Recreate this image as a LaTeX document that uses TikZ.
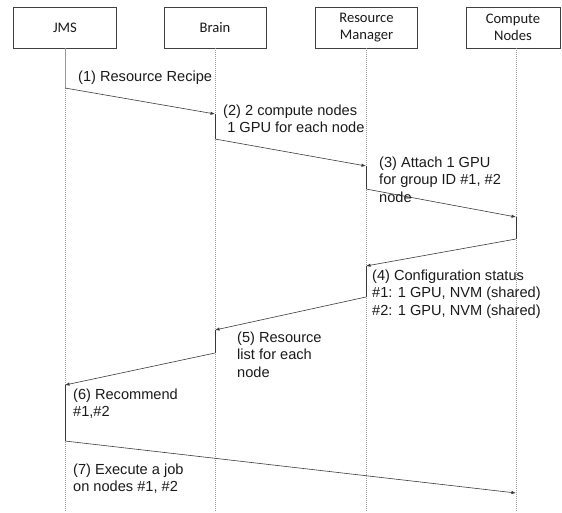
\documentclass[tikz,border=0pt]{standalone}
\usepackage{fontspec}
\setmainfont{Liberation Sans}
\newfontfamily\boxfont{Carlito}
\usetikzlibrary{arrows.meta}
\definecolor{inkc}{HTML}{1A1A1A}
\definecolor{msgc}{HTML}{3A3A3A}
\definecolor{lifec}{HTML}{9A9A9A}
\tikzset{
  actor/.style={draw=black!75, line width=0.8pt, fill=white, minimum height=41pt,
    inner sep=0pt, align=center, text=inkc,
    font=\boxfont\fontsize{14.6}{16.5}\selectfont},
  lifeline/.style={draw=lifec, line width=0.5pt, dash pattern=on 1pt off 1pt},
  activebar/.style={draw=msgc, line width=0.6pt},
  msg/.style={draw=msgc, line width=0.6pt, -{Latex[length=4.5pt,width=3.4pt]}},
  msglabel/.style={anchor=north west, inner sep=0pt, align=left, text=inkc,
    font=\fontsize{14.6}{17.5}\selectfont}
}
\begin{document}
\begin{tikzpicture}[x=1pt,y=-1pt]
\useasboundingbox (0,0) rectangle (562,512);

% participants
\node[actor, minimum width=103pt] (jms)   at (65,27.5)    {JMS};
\node[actor, minimum width=102pt] (brain) at (215,27.5)   {Brain};
\node[actor, minimum width=102pt] (rm)    at (366.5,27.5) {Resource\\Manager};
\node[actor, minimum width=94pt]  (cn)    at (513,27.5)   {Compute\\Nodes};

% lifeline ends
\coordinate (jmsE)   at (65,512);
\coordinate (brainE) at (215,512);
\coordinate (rmE)    at (366,512);
\coordinate (cnE)    at (516,512);

\draw[lifeline] (jms.south)   -- (jmsE);
\draw[lifeline] (brain.south) -- (brainE);
\draw[lifeline] (rm.south -| rmE) -- (rmE);
\draw[lifeline] (cn.south -| cnE) -- (cnE);

% message end points on the lifelines
\coordinate (j1) at (65,88);
\coordinate (b1) at (215,114);
\coordinate (b2) at (215,139);
\coordinate (r1) at (366,166);
\coordinate (r2) at (366,189);
\coordinate (c1) at (516,217);
\coordinate (c2) at (516,239);
\coordinate (r3) at (366,266);
\coordinate (r4) at (366,297);
\coordinate (b3) at (215,330);
\coordinate (b4) at (215,353);
\coordinate (j2) at (65,385);
\coordinate (j3) at (65,441);
\coordinate (c3) at (516,493);

% activity segments
\draw[activebar, draw=lifec] (jms.south) -- (j1);
\draw[activebar] (b1) -- (b2);
\draw[activebar] (r1) -- (r2);
\draw[activebar] (c1) -- (c2);
\draw[activebar] (r3) -- (r4);
\draw[activebar] (b3) -- (b4);
\draw[activebar] (j2) -- (j3);

% messages
\draw[msg] (j1) -- (b1);
\draw[msg] (b2) -- (r1);
\draw[msg] (r2) -- (c1);
\draw[msg] (c2) -- (r3);
\draw[msg] (r4) -- (b3);
\draw[msg] (b4) -- (j2);
\draw[msg] (j3) -- (c3);

% message labels
\node[msglabel] (l1) at (78,70.4)   {(1) Resource Recipe};
\node[msglabel] (l2) at (223,104.4) {(2) 2 compute nodes\\\ 1 GPU for each node};
\node[msglabel] (l3) at (379,156.4) {(3) Attach 1 GPU\\for group ID \#1, \#2\\node};
\node[msglabel] (l4) at (372,269.4) {(4) Configuration status\\\#1: 1 GPU, NVM (shared)\\\#2: 1 GPU, NVM (shared)};
\node[msglabel] (l5) at (237,331.4) {(5) Resource\\list for each\\node};
\node[msglabel] (l6) at (73,388.4)  {(6) Recommend\\\#1,\#2};
\node[msglabel] (l7) at (73,463.4)  {(7) Execute a job\\on nodes \#1, \#2};
\end{tikzpicture}
\end{document}
